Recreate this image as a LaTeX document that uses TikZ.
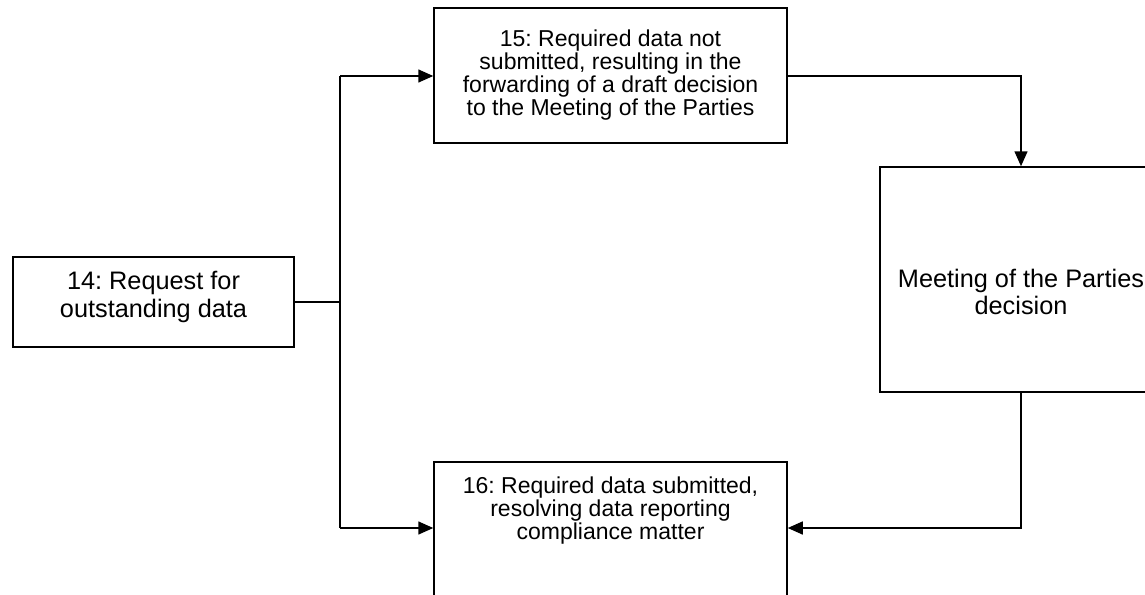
\documentclass[tikz,border=0pt]{standalone}
\usepackage{fontspec}
\setmainfont{Liberation Sans}
\usetikzlibrary{arrows.meta}
\frenchspacing
\begin{document}
\begin{tikzpicture}[x=1pt,y=-1pt,
  boxnode/.style={draw=black,line width=1.5pt,inner sep=0pt,anchor=center},
  txtbig/.style={inner sep=0pt,align=center,font=\fontsize{25.3}{27.5}\selectfont},
  txtsmall/.style={inner sep=0pt,align=center,font=\fontsize{23}{23}\selectfont},
  conn/.style={draw=black,line width=1.5pt},
  arr/.style={conn,-{Triangle[length=15pt,width=13pt]}}
]
\clip (0,0) rectangle (1145,594);
\fill[white] (0,0) rectangle (1145,594);
% boxes
\node[boxnode,minimum width=281pt,minimum height=90pt] (b14) at (153.5,302) {};
\node[boxnode,minimum width=353pt,minimum height=135pt] (b15) at (610.5,75.5) {};
\node[boxnode,minimum width=282pt,minimum height=225pt] (bmp) at (1021,279.5) {};
\node[boxnode,minimum width=353pt,minimum height=135pt] (b16) at (610.5,529.5) {};
% texts
\node[txtbig] (t14) at (153.5,297) {14: Request for\\outstanding data};
\node[txtsmall] (t15) at (610.5,75) {15: Required data not\\submitted, resulting in the\\forwarding of a draft decision\\to the Meeting of the Parties};
\node[txtbig] (tmp) at (1021,292) {Meeting of the Parties\\decision};
\node[txtsmall] (t16) at (610.5,510.5) {16: Required data submitted,\\resolving data reporting\\compliance matter};
% junction coordinates
\coordinate (j) at (340,302);
\coordinate (jt) at (340,76);
\coordinate (jb) at (340,528);
\coordinate (c15) at (1021,76);
\coordinate (c16) at (1021,528);
% connectors
\draw[conn] (b14.east |- j) -- (j);
\draw[conn] (jt) -- (jb);
\draw[arr] (jt) -- (b15.west |- jt);
\draw[arr] (jb) -- (b16.west |- jb);
\draw[arr] (b15.east |- c15) -- (c15) -- (bmp.north);
\draw[arr] (bmp.south) -- (c16) -- (b16.east |- c16);
\end{tikzpicture}
\end{document}
